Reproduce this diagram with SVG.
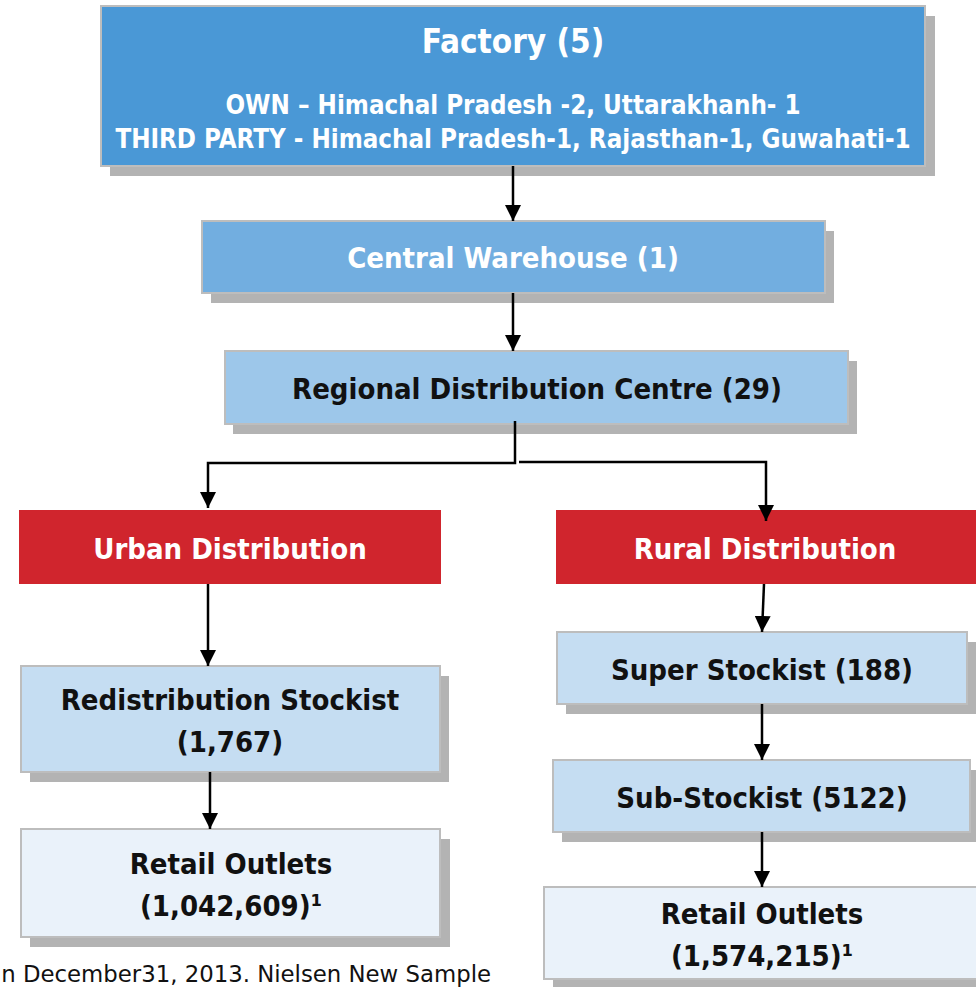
<svg xmlns="http://www.w3.org/2000/svg" width="976" height="987" viewBox="0 0 976 987">
<style>
text{font-family:"DejaVu Sans Condensed","DejaVu Sans",sans-serif;font-stretch:condensed;font-weight:bold;text-anchor:middle}
.box{stroke:#BDBDBD;stroke-width:2}
.sh{fill:#B3B3B3}
.w{fill:#FFFFFF}
.k{fill:#111111}
.conn{fill:none;stroke:#000;stroke-width:2.5}
.foot{font-family:"DejaVu Sans",sans-serif;font-stretch:normal;font-weight:normal;text-anchor:end;fill:#111}
</style>
<defs>
<marker id="ah" markerUnits="userSpaceOnUse" markerWidth="16" markerHeight="16" refX="16" refY="8" orient="auto">
<path d="M0,0 L16,8 L0,16 Z" fill="#000"/>
</marker>
</defs>
<rect width="976" height="987" fill="#FFFFFF"/>
<g id="factory">
<rect class="sh" x="110" y="16" width="825" height="160"/>
<rect class="box" x="101" y="6" width="824" height="160" fill="#4A98D6"/>
<text class="w" x="513" y="53" font-size="33">Factory (5)</text>
<text class="w" x="513" y="114" font-size="25.7">OWN – Himachal Pradesh -2, Uttarakhanh- 1</text>
<text class="w" x="513" y="148" font-size="25.7">THIRD PARTY - Himachal Pradesh-1, Rajasthan-1, Guwahati-1</text>
</g>
<g id="central-warehouse">
<rect class="sh" x="211" y="231" width="623" height="72"/>
<rect class="box" x="202" y="221" width="623" height="72" fill="#72AEE0"/>
<text class="w" x="513" y="268" font-size="29">Central Warehouse (1)</text>
</g>
<g id="rdc">
<rect class="sh" x="233" y="361" width="624" height="73"/>
<rect class="box" x="225" y="351" width="623" height="73" fill="#9DC7EA"/>
<text class="k" x="537" y="399" font-size="29">Regional Distribution Centre (29)</text>
</g>
<g id="urban">
<rect x="19" y="510" width="422" height="74" fill="#D0252D"/>
<text class="w" x="230" y="559" font-size="29">Urban Distribution</text>
</g>
<g id="rural">
<rect x="556" y="510" width="420" height="74" fill="#D0252D"/>
<text class="w" x="765" y="559" font-size="29">Rural Distribution</text>
</g>
<g id="redistribution">
<rect class="sh" x="30" y="676" width="419" height="106"/>
<rect class="box" x="21" y="666" width="419" height="106" fill="#C5DDF2"/>
<text class="k" x="230" y="710" font-size="29">Redistribution Stockist</text>
<text class="k" x="230" y="752" font-size="29">(1,767)</text>
</g>
<g id="retail-urban">
<rect class="sh" x="30" y="839" width="420" height="108"/>
<rect class="box" x="21" y="829" width="419" height="108" fill="#EAF2FA"/>
<text class="k" x="231" y="874" font-size="29">Retail Outlets</text>
<text class="k" x="231" y="916" font-size="29">(1,042,609)¹</text>
</g>
<g id="super-stockist">
<rect class="sh" x="566" y="642" width="410" height="72"/>
<rect class="box" x="557" y="632" width="410" height="72" fill="#C5DDF2"/>
<text class="k" x="762" y="680" font-size="29">Super Stockist (188)</text>
</g>
<g id="sub-stockist">
<rect class="sh" x="562" y="770" width="417" height="72"/>
<rect class="box" x="553" y="760" width="417" height="72" fill="#C5DDF2"/>
<text class="k" x="762" y="808" font-size="29">Sub-Stockist (5122)</text>
</g>
<g id="retail-rural">
<rect class="sh" x="553" y="897" width="440" height="92"/>
<rect class="box" x="544" y="887" width="440" height="92" fill="#EAF2FA"/>
<text class="k" x="762" y="924" font-size="29">Retail Outlets</text>
<text class="k" x="762" y="966" font-size="29">(1,574,215)¹</text>
</g>
<g id="connectors">
<line class="conn" x1="513" y1="166" x2="513" y2="221" marker-end="url(#ah)"/>
<line class="conn" x1="513" y1="293" x2="513" y2="351" marker-end="url(#ah)"/>
<polyline class="conn" points="515,421 515,463 208,463 208,508" marker-end="url(#ah)"/>
<polyline class="conn" points="519,462 766,462 766,521" marker-end="url(#ah)"/>
<line class="conn" x1="208" y1="584" x2="208" y2="666" marker-end="url(#ah)"/>
<line class="conn" x1="210" y1="772" x2="210" y2="829" marker-end="url(#ah)"/>
<line class="conn" x1="764" y1="584" x2="762" y2="632" marker-end="url(#ah)"/>
<line class="conn" x1="762" y1="704" x2="762" y2="760" marker-end="url(#ah)"/>
<line class="conn" x1="762" y1="832" x2="762" y2="887" marker-end="url(#ah)"/>
</g>
<text class="foot" x="491" y="982" font-size="22.8">n December31, 2013. Nielsen New Sample</text>
</svg>
